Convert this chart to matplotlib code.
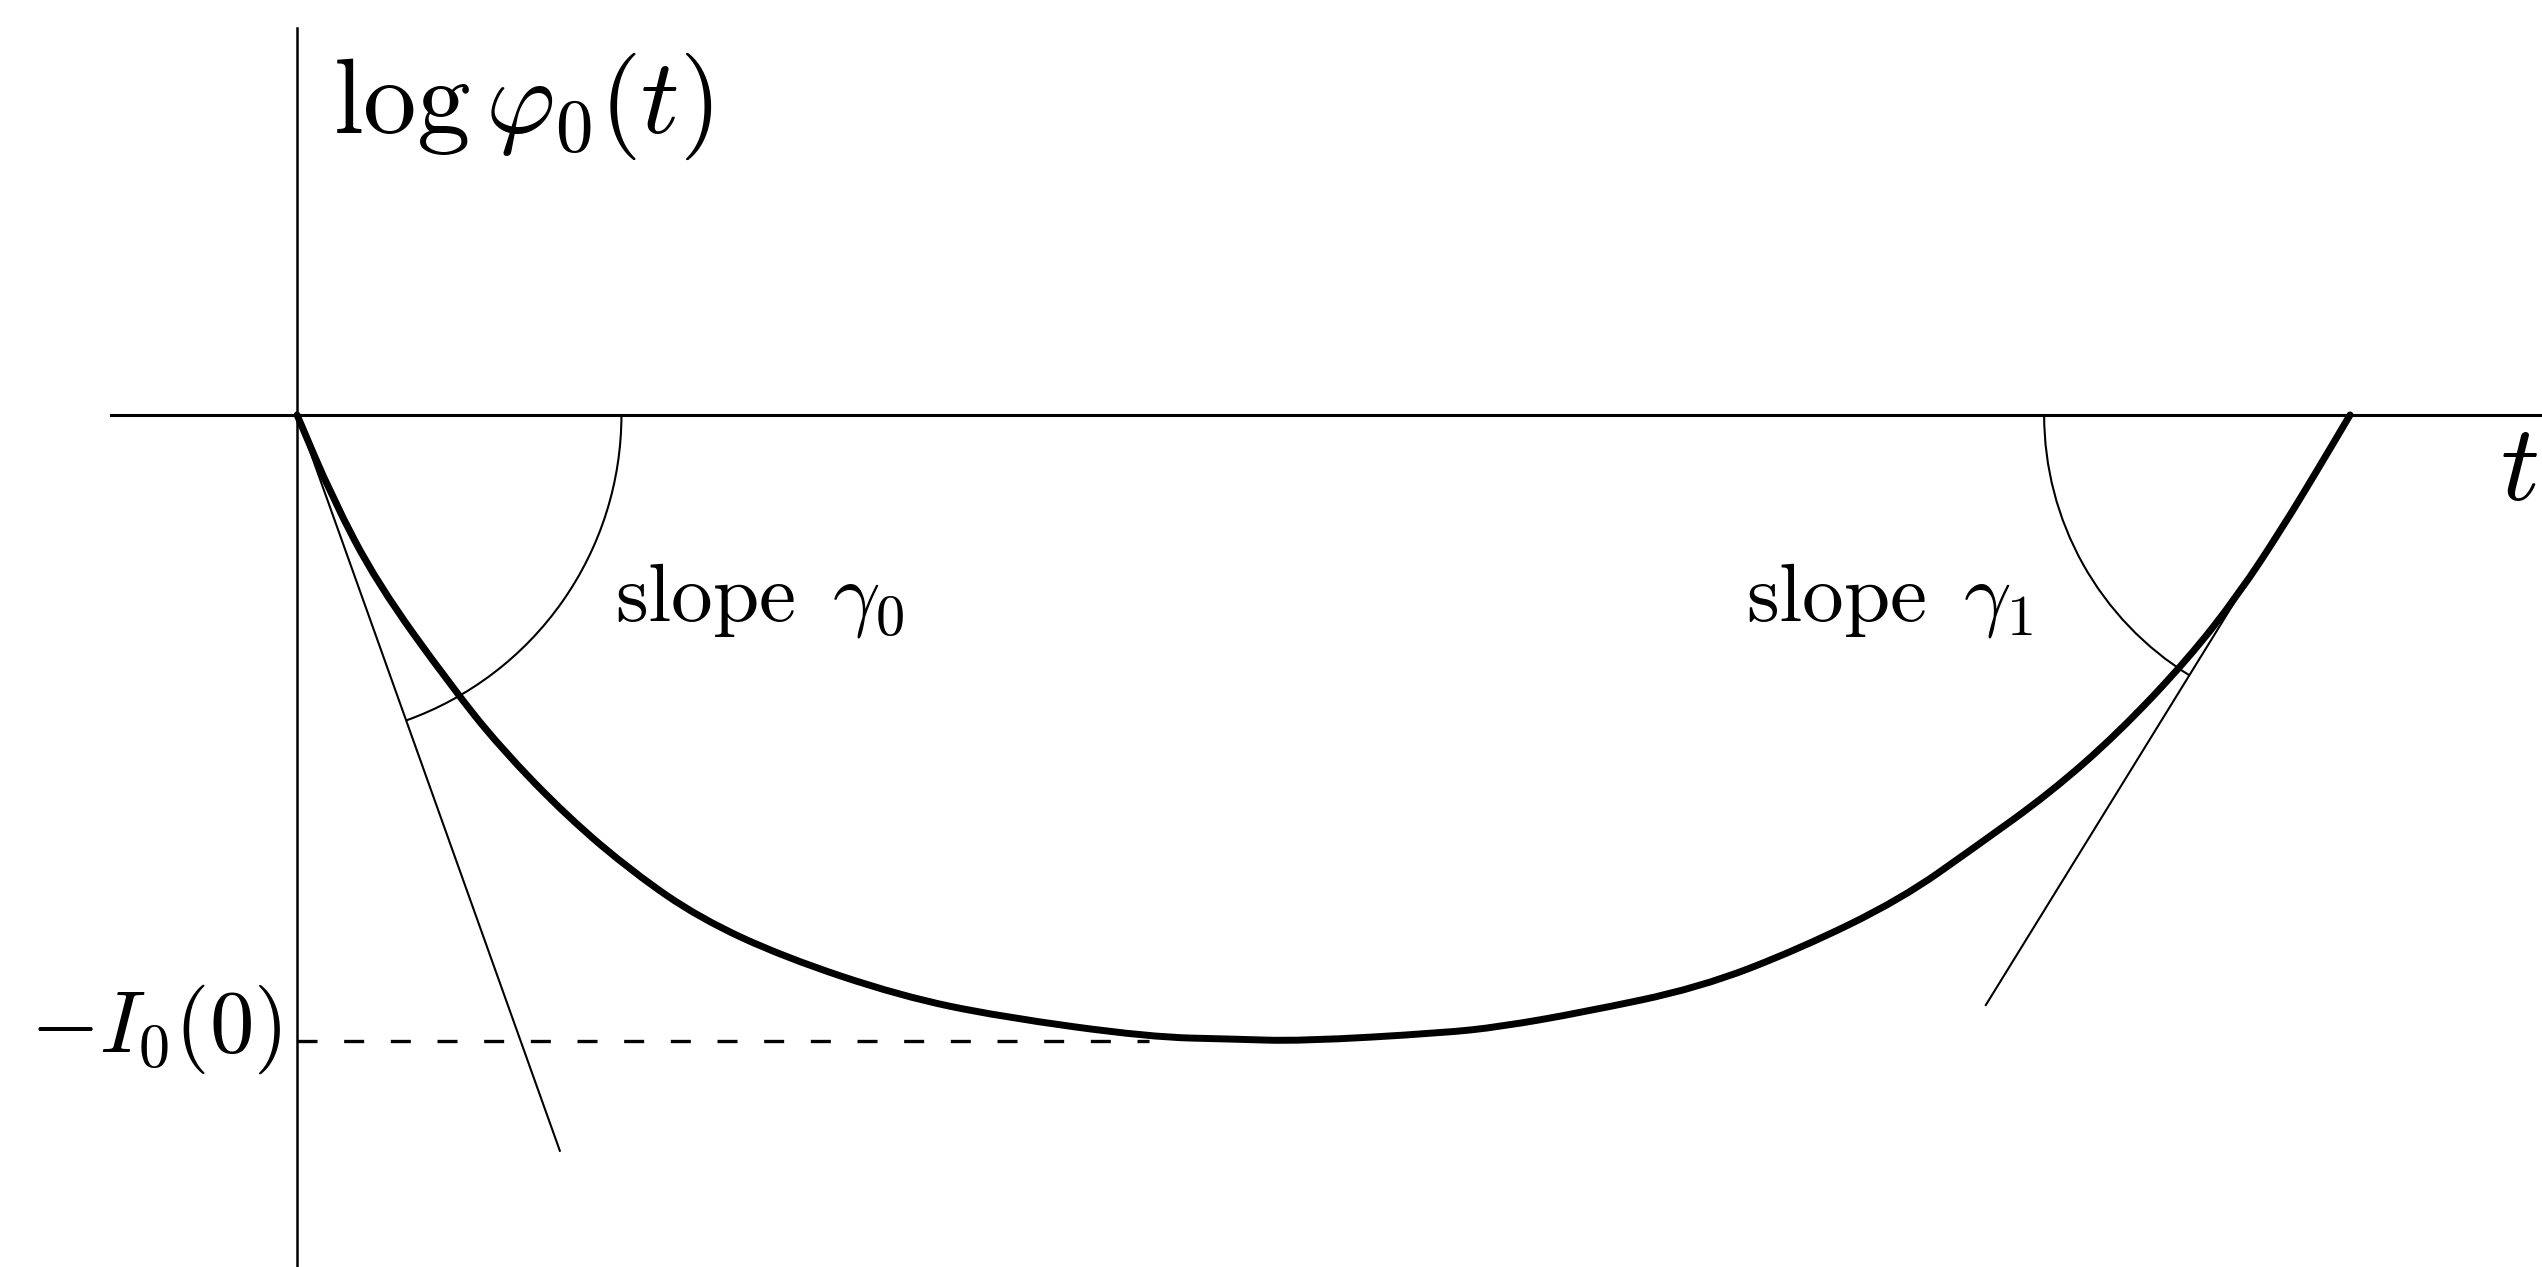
import numpy as np
import matplotlib
matplotlib.use('Agg')
import matplotlib.pyplot as plt
from matplotlib.patches import Arc, PathPatch
from matplotlib.path import Path

plt.rcParams['mathtext.fontset'] = 'cm'

# log phi_0(t) between its two zeros t = 0 and t = t1
t = [0.0, 0.017, 0.039, 0.075, 0.099, 0.132, 0.164, 0.196, 0.237, 0.294,
     0.342, 0.415, 0.456, 0.489, 0.558, 0.586, 0.626, 0.683, 0.732, 0.781,
     0.818, 0.854, 0.887, 0.921, 0.946, 0.967, 0.984, 1.0]
log_phi = [0.0, -0.040, -0.082, -0.132, -0.162, -0.196, -0.223, -0.245, -0.264, -0.283,
           -0.293, -0.303, -0.304, -0.305, -0.301, -0.298, -0.291, -0.279, -0.260, -0.236,
           -0.210, -0.184, -0.155, -0.119, -0.087, -0.055, -0.027, 0.0]

t1 = t[-1]
I0 = -min(log_phi)      # -I_0(0) is the minimum
gamma0 = -2.8           # slope at t = 0
gamma1 = 1.62           # slope at t = t1
tan0_end = 0.128        # how far the tangent lines are drawn
tan1_end = 0.8226
r0, r1 = 0.158, 0.149   # radius of the angle arcs

fig = plt.figure(figsize=(25.42, 12.67), dpi=100)
ax = fig.add_axes([0, 0, 1, 1])
ax.set_xlim(-0.1447, 1.0935)
ax.set_ylim(-0.415, 0.2021)
ax.axis('off')

# coordinate axes
ax.plot([-0.0906, 1.0935], [0, 0], color='k', lw=2.2)
ax.plot([0, 0], [-0.415, 0.1885], color='k', lw=1.8)

# the curve: quadratic bezier pieces, the points act as control points
pts = np.column_stack([t, log_phi])
mids = (pts[:-1] + pts[1:]) / 2
verts = [pts[0], mids[0]]
codes = [Path.MOVETO, Path.LINETO]
for i in range(1, len(pts) - 1):
    verts += [pts[i], mids[i]]
    codes += [Path.CURVE3, Path.CURVE3]
verts.append(pts[-1])
codes.append(Path.LINETO)
ax.add_patch(PathPatch(Path(verts, codes), facecolor='none', edgecolor='k', lw=5,
                       capstyle='round', joinstyle='round'))

# tangents at both ends
ax.plot([0, tan0_end], [0, gamma0 * tan0_end], color='k', lw=1.5)
ax.plot([t1, tan1_end], [0, gamma1 * (tan1_end - t1)], color='k', lw=1.5)

# angle arcs
a0 = np.degrees(np.arctan(gamma0))
a1 = np.degrees(np.arctan(gamma1))
ax.add_patch(Arc((0, 0), 2 * r0, 2 * r0, theta1=a0, theta2=0, color='k', lw=1.5))
ax.add_patch(Arc((t1, 0), 2 * r1, 2 * r1, theta1=180, theta2=180 + a1, color='k', lw=1.5))

# level of the minimum
ax.plot([0, 0.415], [-I0, -I0], color='k', lw=2.4, dashes=(6, 8))

ax.text(0.0175, 0.1374, r'$\log\varphi_0(t)$', fontsize=77, ha='left', va='baseline')
ax.text(1.073, -0.0414, r'$t$', fontsize=78, ha='left', va='baseline')
ax.text(0.155, -0.0999, r'$\mathrm{slope}\ \,\gamma_0$', fontsize=60, ha='left', va='baseline')
ax.text(0.706, -0.0999, r'$\mathrm{slope}\ \,\gamma_1$', fontsize=60, ha='left', va='baseline')
ax.text(-0.0075, -I0 - 0.005, r'$-I_0(0)$', fontsize=64, ha='right', va='baseline')

fig.savefig('out.png', dpi=100)
